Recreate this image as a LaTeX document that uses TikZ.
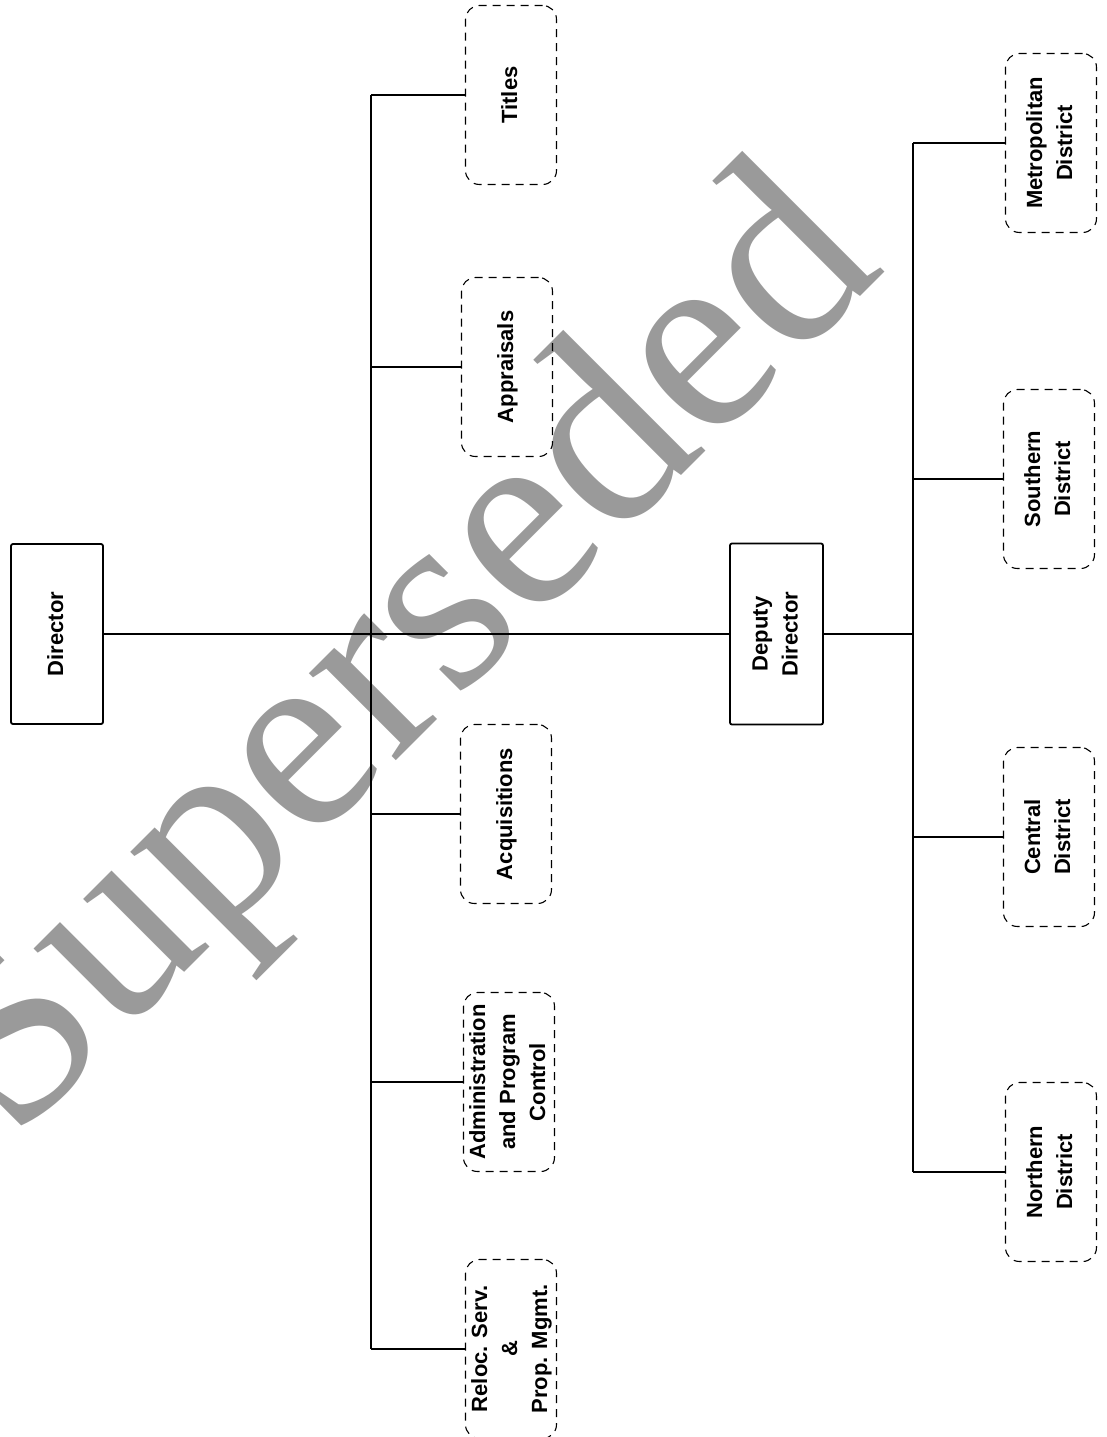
\documentclass[tikz,border=0pt]{standalone}
\usepackage{fontspec}
\setmainfont{Liberation Sans}
\newfontfamily\wmfont{Liberation Serif}
\definecolor{wmgray}{RGB}{154,154,154}
\newcommand{\rtxt}[1]{\rotatebox{90}{\begin{tabular}{@{}c@{}}#1\end{tabular}}}
\begin{document}
\begin{tikzpicture}[x=1pt,y=-1pt,
  boxfont/.style={font=\fontsize{22}{30}\selectfont\bfseries},
  solidbox/.style={draw, line width=1.8pt, rounded corners=2pt, minimum width=92pt, minimum height=180pt, inner sep=0pt, boxfont},
  dashbox/.style={draw, line width=1.1pt, dash pattern=on 8pt off 6pt, rounded corners=14pt, minimum width=91pt, minimum height=179pt, inner sep=0pt, boxfont},
  conn/.style={line width=1.6pt}]
\useasboundingbox (0,0) rectangle (1106,1437);
\begin{scope}
\clip (0,0) rectangle (1106,1437);
\node[font=\wmfont\fontsize{268}{268}\selectfont, text=wmgray, rotate=45, anchor=base, inner sep=0pt] (wm) at (450,707) {Superseded};
\end{scope}
\coordinate (jl) at (371,0);
\coordinate (jr) at (913,0);
\node[solidbox] (dir) at (57,634) {\rtxt{Director}};
\node[solidbox, minimum width=93pt, minimum height=181pt] (dep) at (776.5,634) {\rtxt{Deputy\\Director}};
\node[dashbox] (titles) at (511,95) {\rtxt{Titles}};
\node[dashbox] (appr) at (507,367) {\rtxt{Appraisals}};
\node[dashbox] (acq) at (506,814) {\rtxt{Acquisitions}};
\node[dashbox] (adm) at (509,1082) {\rtxt{Administration\\and Program\\Control}};
\node[dashbox] (reloc) at (511,1349) {\rtxt{Reloc. Serv.\\\&\\Prop. Mgmt.}};
\node[dashbox] (metro) at (1051,143) {\rtxt{Metropolitan\\District}};
\node[dashbox] (south) at (1049,479) {\rtxt{Southern\\District}};
\node[dashbox] (cent) at (1049,837) {\rtxt{Central\\District}};
\node[dashbox] (north) at (1051,1172) {\rtxt{Northern\\District}};
\draw[conn] (dir.east) -- (dep.west);
\draw[conn] (titles.west -| jl) -- (reloc.west -| jl);
\foreach \n in {titles,appr,acq,adm,reloc} \draw[conn] (\n.west) -- (\n.west -| jl);
\draw[conn] (dep.east) -- (dep.east -| jr);
\draw[conn] (metro.west -| jr) -- (north.west -| jr);
\foreach \n in {metro,south,cent,north} \draw[conn] (\n.west) -- (\n.west -| jr);
\end{tikzpicture}
\end{document}
